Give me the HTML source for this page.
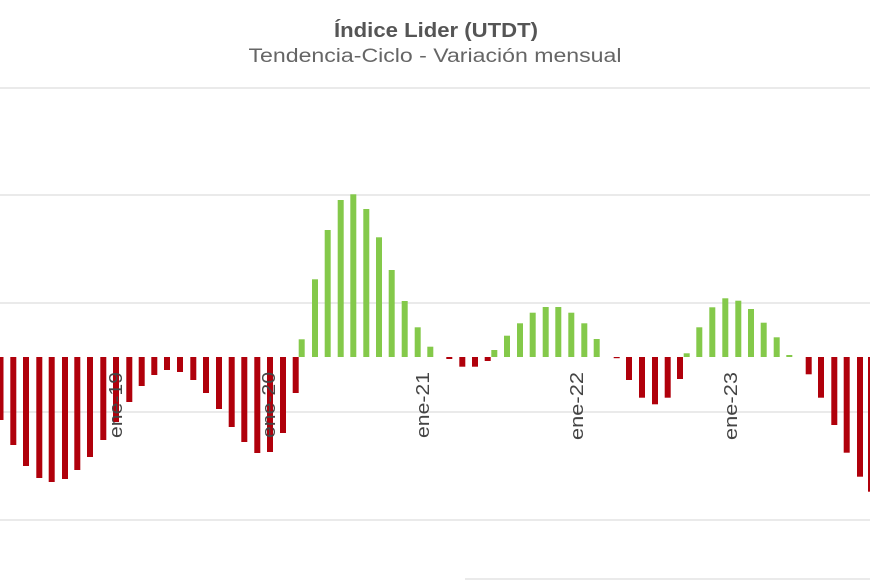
<!DOCTYPE html>
<html><head><meta charset="utf-8"><style>
html,body{margin:0;padding:0;background:#fff;width:870px;height:580px;overflow:hidden}
</style></head><body>
<svg width="870" height="580" xmlns="http://www.w3.org/2000/svg" font-family="Liberation Sans, sans-serif">
<text x="436" y="37" text-anchor="middle" font-size="20" font-weight="bold" fill="#555" textLength="204" lengthAdjust="spacingAndGlyphs">Índice Lider (UTDT)</text>
<text x="435" y="62" text-anchor="middle" font-size="19" fill="#666" textLength="373" lengthAdjust="spacingAndGlyphs">Tendencia-Ciclo - Variación mensual</text>
<g stroke="#e3e3e3" stroke-width="1.5">
<line x1="0" y1="88" x2="870" y2="88"/>
<line x1="0" y1="195" x2="870" y2="195"/>
<line x1="0" y1="303" x2="870" y2="303"/>
<line x1="0" y1="412" x2="870" y2="412"/>
<line x1="0" y1="520" x2="870" y2="520"/>
<line x1="465" y1="579" x2="870" y2="579"/>
</g>
<g fill="#b0000b">
<rect x="-2.5" y="357" width="6" height="63"/>
<rect x="10.3" y="357" width="6" height="88"/>
<rect x="23" y="357" width="6" height="109"/>
<rect x="36.3" y="357" width="6" height="121"/>
<rect x="48.7" y="357" width="6" height="125"/>
<rect x="62" y="357" width="6" height="122"/>
<rect x="74.3" y="357" width="6" height="113"/>
<rect x="87" y="357" width="6" height="100"/>
<rect x="100.3" y="357" width="6" height="83"/>
<rect x="113" y="357" width="6" height="65"/>
<rect x="126.3" y="357" width="6" height="45"/>
<rect x="138.7" y="357" width="6" height="29"/>
<rect x="151.3" y="357" width="6" height="18"/>
<rect x="164" y="357" width="6" height="13"/>
<rect x="177" y="357" width="6" height="15"/>
<rect x="190.3" y="357" width="6" height="23"/>
<rect x="203" y="357" width="6" height="36"/>
<rect x="216" y="357" width="6" height="52"/>
<rect x="228.7" y="357" width="6" height="70"/>
<rect x="241.3" y="357" width="6" height="85"/>
<rect x="254.3" y="357" width="6" height="96"/>
<rect x="267" y="357" width="6" height="95"/>
<rect x="280" y="357" width="6" height="76"/>
<rect x="292.7" y="357" width="6" height="36"/>
<rect x="446.3" y="357" width="6" height="2"/>
<rect x="459.3" y="357" width="6" height="9.7"/>
<rect x="472" y="357" width="6" height="9.7"/>
<rect x="484.7" y="357" width="6" height="4"/>
<rect x="613.7" y="357" width="6" height="1.2"/>
<rect x="626" y="357" width="6" height="23"/>
<rect x="639" y="357" width="6" height="40.7"/>
<rect x="652" y="357" width="6" height="47.3"/>
<rect x="664.7" y="357" width="6" height="40.7"/>
<rect x="677" y="357" width="6" height="22"/>
<rect x="805.7" y="357" width="6" height="17.3"/>
<rect x="818" y="357" width="6" height="40.7"/>
<rect x="831.3" y="357" width="6" height="68"/>
<rect x="843.7" y="357" width="6" height="95.7"/>
<rect x="857" y="357" width="6" height="119.7"/>
<rect x="868" y="357" width="6" height="134.7"/>
</g>
<g fill="#84c94a">
<rect x="298.7" y="339.3" width="6" height="17.7"/>
<rect x="312" y="279.3" width="6" height="77.7"/>
<rect x="324.7" y="230" width="6" height="127"/>
<rect x="337.7" y="200" width="6" height="157"/>
<rect x="350.3" y="194.3" width="6" height="162.7"/>
<rect x="363.3" y="209" width="6" height="148"/>
<rect x="376" y="237.3" width="6" height="119.7"/>
<rect x="388.7" y="270" width="6" height="87"/>
<rect x="401.7" y="301" width="6" height="56"/>
<rect x="414.7" y="327.3" width="6" height="29.7"/>
<rect x="427.3" y="346.7" width="6" height="10.3"/>
<rect x="491.3" y="350" width="6" height="7"/>
<rect x="504" y="335.7" width="6" height="21.3"/>
<rect x="517" y="323.3" width="6" height="33.7"/>
<rect x="529.7" y="312.7" width="6" height="44.3"/>
<rect x="542.7" y="307" width="6" height="50"/>
<rect x="555.3" y="307" width="6" height="50"/>
<rect x="568.3" y="312.7" width="6" height="44.3"/>
<rect x="581.3" y="323.3" width="6" height="33.7"/>
<rect x="593.7" y="339" width="6" height="18"/>
<rect x="683.7" y="353.3" width="6" height="3.7"/>
<rect x="696.3" y="327.3" width="6" height="29.7"/>
<rect x="709.3" y="307.3" width="6" height="49.7"/>
<rect x="722.3" y="298.3" width="6" height="58.7"/>
<rect x="735.3" y="300.7" width="6" height="56.3"/>
<rect x="748" y="309" width="6" height="48"/>
<rect x="760.7" y="322.7" width="6" height="34.3"/>
<rect x="773.7" y="337.3" width="6" height="19.7"/>
<rect x="786.3" y="355" width="6" height="2"/>
</g>
<g font-size="18" fill="#444" text-anchor="end">
<text transform="translate(122,372) rotate(-90)" textLength="66" lengthAdjust="spacingAndGlyphs">ene-19</text>
<text transform="translate(275,372) rotate(-90)" textLength="66" lengthAdjust="spacingAndGlyphs">ene-20</text>
<text transform="translate(429,372) rotate(-90)" textLength="66" lengthAdjust="spacingAndGlyphs">ene-21</text>
<text transform="translate(583,372) rotate(-90)" textLength="68" lengthAdjust="spacingAndGlyphs">ene-22</text>
<text transform="translate(737,372) rotate(-90)" textLength="68" lengthAdjust="spacingAndGlyphs">ene-23</text>
</g>
</svg>
</body></html>
